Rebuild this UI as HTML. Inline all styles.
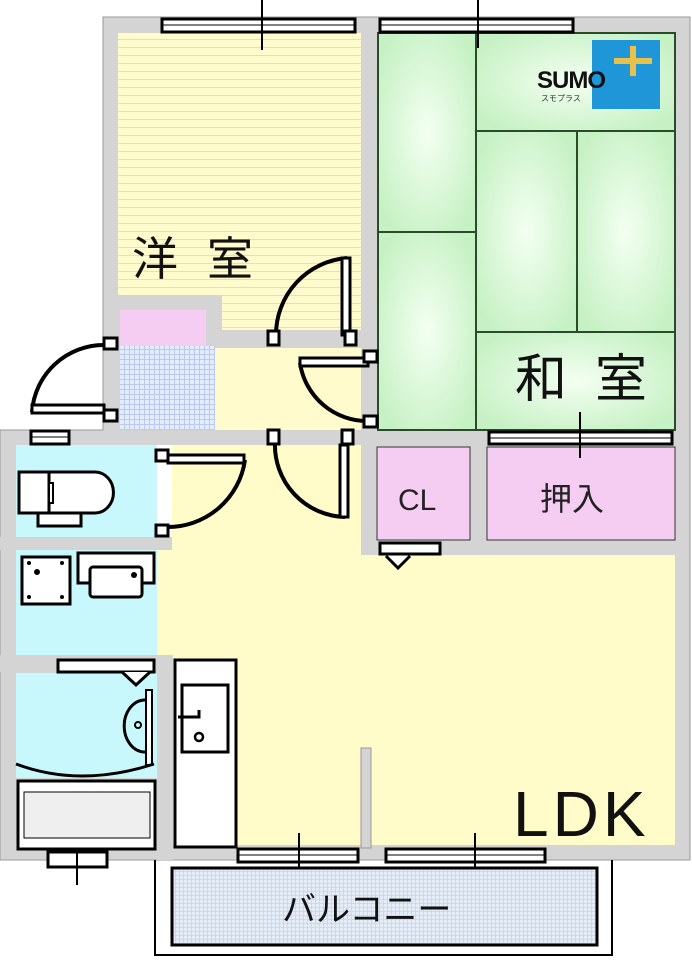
<!DOCTYPE html>
<html><head><meta charset="utf-8"><style>
html,body{margin:0;padding:0;background:#fff;}
svg{display:block}
text{font-family:"Liberation Sans","Noto Sans CJK JP",sans-serif;}
</style></head><body>
<svg width="692" height="960" viewBox="0 0 692 960" xmlns="http://www.w3.org/2000/svg">
<defs>
<pattern id="hl" width="8" height="8" patternUnits="userSpaceOnUse"><rect width="8" height="8" fill="#fffbcc"/><line x1="0" y1="7.5" x2="8" y2="7.5" stroke="#e6e2b0" stroke-width="1"/></pattern>
<pattern id="grid" width="5" height="5" patternUnits="userSpaceOnUse"><rect width="5" height="5" fill="#e4ecff"/><path d="M0 4.5H5M4.5 0V5" stroke="#b9c9f0" stroke-width="1"/></pattern>
<pattern id="grid2" width="4" height="4" patternUnits="userSpaceOnUse"><rect width="4" height="4" fill="#e4ecf8"/><path d="M0 3.5H4M3.5 0V4" stroke="#c8d4ea" stroke-width="0.8"/></pattern>
<radialGradient id="tg" cx="0.5" cy="0.5" r="0.6"><stop offset="0" stop-color="#f4fff2"/><stop offset="1" stop-color="#c6f1c4"/></radialGradient>
</defs>

<!-- gray wall base -->
<path d="M103 17H690V860H0V430H103Z" fill="#d4d4d4" stroke="#9a9a9a" stroke-width="1"/>
<!-- floors -->
<rect x="118" y="33" width="243" height="262" fill="url(#hl)"/>
<rect x="222" y="295" width="139" height="35" fill="url(#hl)"/>
<rect x="120" y="310" width="86" height="36" fill="#f6cdf2"/>
<rect x="120" y="346" width="95" height="84" fill="url(#grid)"/>
<rect x="215" y="348" width="146" height="82" fill="#fffbcc"/>
<!-- LDK -->
<rect x="157" y="445" width="518" height="400" fill="#fffcc9"/>
<rect x="361" y="430" width="314" height="125" fill="#d4d4d4"/>
<rect x="377" y="447" width="93" height="93" fill="#f6cdf2" stroke="#333" stroke-width="1"/>
<rect x="487" y="447" width="188" height="93" fill="#f6cdf2" stroke="#333" stroke-width="1"/>
<!-- wet areas -->
<rect x="16" y="445" width="141" height="92" fill="#c8f8fc"/>
<rect x="16" y="550" width="141" height="105" fill="#c8f8fc"/>
<rect x="16" y="673" width="141" height="105" fill="#c8f8fc"/>
<rect x="0" y="537" width="172" height="13" fill="#d4d4d4"/>
<rect x="0" y="655" width="172" height="17" fill="#d4d4d4"/>
<rect x="157" y="655" width="16" height="205" fill="#d4d4d4"/>
<rect x="157" y="445" width="15" height="92" fill="#fff"/>
<!-- partition -->
<rect x="361" y="748" width="10" height="100" fill="#d4d4d4" stroke="#999" stroke-width="1"/>

<!-- tatami -->
<rect x="378" y="33" width="297" height="397" fill="url(#tg)"/>
<g fill="url(#tg)" stroke="#2a4a2a" stroke-width="2">
<rect x="378" y="33" width="98" height="199"/>
<rect x="378" y="232" width="98" height="198"/>
<rect x="476" y="33" width="199" height="98"/>
<rect x="476" y="131" width="101" height="201"/>
<rect x="577" y="131" width="98" height="201"/>
<rect x="476" y="332" width="199" height="98"/>
</g>

<!-- windows -->
<g fill="#fff" stroke="#000" stroke-width="3">
<rect x="162" y="19" width="193" height="13"/>
<rect x="380" y="19" width="193" height="13"/>
<rect x="489" y="432" width="183" height="12"/>
<rect x="238" y="849" width="120" height="13"/>
<rect x="386" y="849" width="159" height="13"/>
<rect x="48" y="852" width="59" height="15"/>
<rect x="31" y="431" width="38" height="13"/>
</g>
<g stroke="#000" stroke-width="2">
<line x1="262" y1="0" x2="262" y2="50"/><line x1="478" y1="0" x2="478" y2="48"/>
<line x1="580" y1="412" x2="580" y2="458"/>
<line x1="299" y1="833" x2="299" y2="880"/><line x1="475" y1="833" x2="475" y2="880"/>
<line x1="77" y1="835" x2="77" y2="885"/>
<line x1="162" y1="25" x2="355" y2="25" stroke-width="1"/><line x1="380" y1="25" x2="573" y2="25" stroke-width="1"/>
<line x1="489" y1="438" x2="672" y2="438" stroke-width="1"/>
<line x1="238" y1="855" x2="358" y2="855" stroke-width="1"/><line x1="386" y1="855" x2="545" y2="855" stroke-width="1"/>
<line x1="31" y1="437" x2="69" y2="437" stroke-width="1"/>
</g>

<!-- balcony -->
<path d="M155 860V955H612V860" fill="none" stroke="#000" stroke-width="2"/>
<rect x="172" y="868" width="425" height="77" fill="url(#grid2)" stroke="#000" stroke-width="3"/>

<!-- doors -->
<g fill="none" stroke="#000" stroke-width="4">
<path d="M347 258A77 77 0 0 0 276 335"/>
<rect x="342" y="258" width="8" height="77" fill="#fff" stroke-width="3"/>
<path d="M300 363A68 68 0 0 0 368 421"/>
<rect x="300" y="358" width="68" height="8" fill="#fff" stroke-width="3"/>
<path d="M275 442A72 72 0 0 0 345 517"/>
<rect x="340" y="445" width="8" height="72" fill="#fff" stroke-width="3"/>
<path d="M245 460A78 78 0 0 1 166 527"/>
<rect x="168" y="455" width="76" height="8" fill="#fff" stroke-width="3"/>
<path d="M104 345A72 72 0 0 0 32 412"/>
<rect x="32" y="405" width="72" height="8" fill="#fff" stroke-width="3"/>
</g>
<g fill="#fff" stroke="#000" stroke-width="3">
<rect x="268" y="331" width="11" height="14"/><rect x="345" y="331" width="11" height="14"/>
<rect x="364" y="351" width="13" height="11"/><rect x="364" y="416" width="13" height="11"/>
<rect x="268" y="430" width="11" height="14"/><rect x="342" y="430" width="11" height="14"/>
<rect x="156" y="450" width="12" height="11"/><rect x="156" y="525" width="12" height="11"/>
<rect x="104" y="338" width="13" height="11"/><rect x="104" y="410" width="13" height="11"/>
</g>
<rect x="380" y="543" width="60" height="11" fill="#fff" stroke="#000" stroke-width="3"/>
<path d="M386 556L398 568L410 556" fill="#fff" stroke="#000" stroke-width="3"/>

<!-- fixtures -->
<g fill="#fff" stroke="#000" stroke-width="3">
<rect x="38" y="512" width="43" height="14"/>
<path d="M40 472H95A18 20 0 0 1 95 513H40Z"/>
<rect x="19" y="472" width="30" height="41"/>
<rect x="49" y="483" width="4" height="20" stroke-width="2"/>
<rect x="22" y="557" width="48" height="47"/>
<rect x="78" y="553" width="76" height="30"/>
<rect x="90" y="567" width="52" height="30" rx="3"/>
<rect x="58" y="660" width="96" height="12"/>
<path d="M122 672L136 685L150 672"/>
<rect x="146" y="690" width="6" height="75" stroke-width="2"/>
<rect x="18" y="781" width="137" height="68"/>
<rect x="24" y="792" width="126" height="46" fill="#efefef" stroke-width="1"/>
<rect x="175" y="660" width="61" height="187"/>
<rect x="182" y="685" width="46" height="67"/>
</g>
<path d="M16 764Q80 788 154 764" fill="none" stroke="#000" stroke-width="3"/>
<path d="M145 700A20 25 0 0 0 145 752" fill="none" stroke="#000" stroke-width="3"/>
<circle cx="138" cy="725" r="3" fill="none" stroke="#000" stroke-width="2"/>
<path d="M178 717H199V710" fill="none" stroke="#000" stroke-width="3"/>
<circle cx="199" cy="737" r="4" fill="none" stroke="#000" stroke-width="2.5"/>
<g fill="#000"><circle cx="29" cy="563" r="2"/><circle cx="62" cy="563" r="2"/><circle cx="29" cy="597" r="2"/><circle cx="62" cy="597" r="2"/><circle cx="37" cy="572" r="3"/><circle cx="134" cy="575" r="3"/></g>

<!-- logo -->
<rect x="592" y="40" width="68" height="69" fill="#1e96d8"/>
<rect x="614" y="58" width="38" height="6" fill="#e8c04c"/><rect x="630" y="46" width="6" height="30" fill="#e8c04c"/>
<text x="537" y="88" font-size="24" font-weight="bold" fill="#111" letter-spacing="-1">SUMO</text>
<text x="541" y="101" font-size="8" fill="#333">スモプラス</text>

<!-- labels -->
<text x="132" y="275" font-size="46" fill="#111">洋</text>
<text x="207" y="275" font-size="46" fill="#111">室</text>
<text x="515" y="397" font-size="52" fill="#111">和</text>
<text x="595" y="397" font-size="52" fill="#111">室</text>
<text x="398" y="510" font-size="30" fill="#222">CL</text>
<text x="540" y="510" font-size="32" fill="#222">押入</text>
<text x="513" y="836" font-size="64" fill="#111" letter-spacing="4">LDK</text>
<text x="282" y="921" font-size="34" fill="#111">バルコニー</text>
</svg>
</body></html>
